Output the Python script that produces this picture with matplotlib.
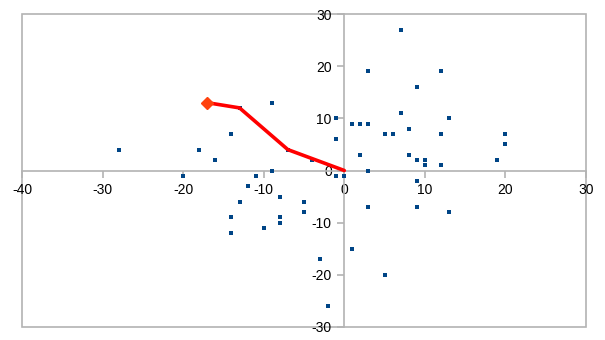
import matplotlib
matplotlib.use("Agg")
import matplotlib.pyplot as plt
from matplotlib.patches import Rectangle

plt.rcParams['font.family'] = ['Liberation Sans', 'DejaVu Sans']

# scatter data
pts_x = [-28, -20, -18, -16, -17, -13, -14, -9, -7, -4, -11, -9, -1, -1, -1, 0,
         -12, -8, -13, -5, -5, -14, -8, -8, -10, -14, -3, -2,
         1, 3, 5, 9, 13, 9, 3,
         7, 3, 12, 9, 7, 13, 1, 2, 3, 5, 6, 8, 12, 2, 8, 9, 10, 10, 12, 19, 20, 20]
pts_y = [4, -1, 4, 2, 13, 12, 7, 13, 4, 2, -1, 0, 10, 6, -1, -1,
         -3, -5, -6, -6, -8, -9, -9, -10, -11, -12, -17, -26,
         -15, -7, -20, -7, -8, -2, 0,
         27, 19, 19, 16, 11, 10, 9, 9, 9, 7, 7, 8, 7, 3, 3, 2, 2, 1, 1, 2, 7, 5]

# path line
line_x = [-17, -13, -7, 0]
line_y = [13, 12, 4, 0]

xticks = [-40, -30, -20, -10, 0, 10, 20, 30]
yticks = [-30, -20, -10, 0, 10, 20, 30]

fig = plt.figure(figsize=(6.05, 3.4), dpi=100)
ax = fig.add_axes([22/605, 13/340, 564/605, 313/340])
ax.set_xlim(-40, 30)
ax.set_ylim(-30, 30)

gray = '#b3b3b3'
for s in ['top', 'right']:
    ax.spines[s].set_visible(False)
ax.spines['left'].set_position(('data', 0))
ax.spines['bottom'].set_position(('data', 0))
ax.spines['left'].set_color(gray)
ax.spines['bottom'].set_color(gray)
ax.spines['left'].set_linewidth(1.2)
ax.spines['bottom'].set_linewidth(1.2)
ax.add_patch(Rectangle((0, 0), 1, 1, transform=ax.transAxes, fill=False,
                       edgecolor=gray, linewidth=1.2, clip_on=False, zorder=0))

ax.set_xticks(xticks)
ax.set_yticks(yticks)
ax.set_xticklabels([str(t) for t in xticks])
ax.set_yticklabels([str(t) for t in yticks])
ax.tick_params(direction='out', length=5, width=1.2, color=gray,
               labelsize=10, labelcolor='black', pad=4)

ax.scatter(pts_x, pts_y, marker='s', s=7, color='#004586', linewidths=0, zorder=3)
ax.plot(line_x, line_y, color='#ff0000', linewidth=2.6, zorder=4, solid_capstyle='round')
ax.plot(line_x[0], line_y[0], marker='D', markersize=6, color='#ff420e', zorder=5,
        linestyle='none')

fig.savefig('out.png', dpi=100)
